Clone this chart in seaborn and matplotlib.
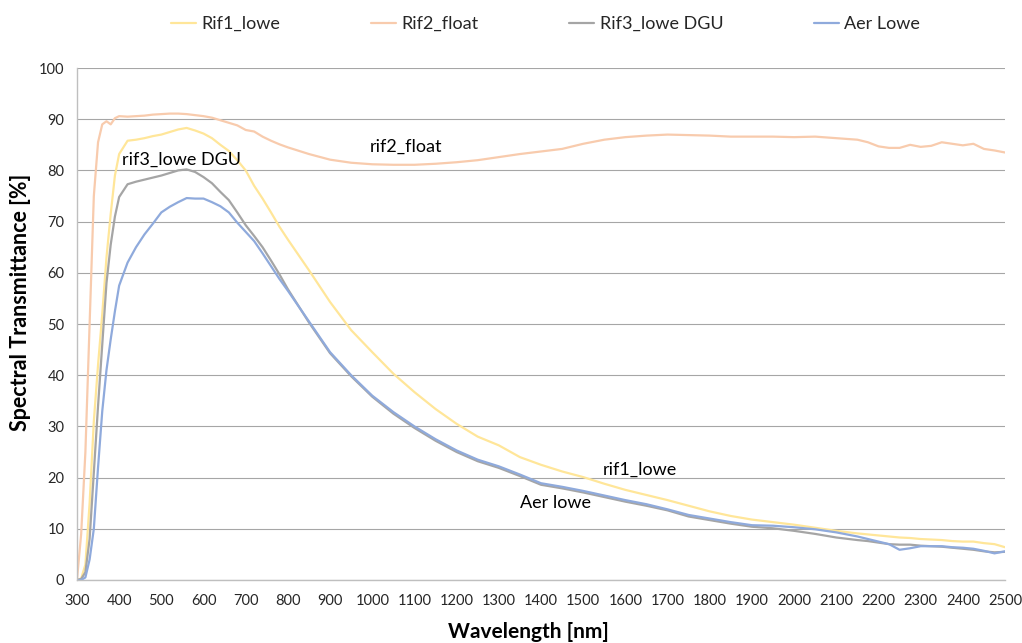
"""
Spectral transmittance of four glazing samples
"""
import matplotlib
matplotlib.use("Agg")
import matplotlib.pyplot as plt
import numpy as np
import pandas as pd
import seaborn as sns

# wavelength grid [nm]
wavelength = [
    300, 310, 320, 330, 340, 350, 360, 370, 380, 390,
    400, 420, 440, 460, 480, 500, 520, 540, 560, 580,
    600, 620, 640, 660, 680, 700, 720, 740, 760, 780,
    800, 850, 900, 950, 1000, 1050, 1100, 1150, 1200, 1250,
    1300, 1350, 1400, 1450, 1500, 1550, 1600, 1650, 1700, 1750,
    1800, 1850, 1900, 1950, 2000, 2050, 2100, 2150, 2175, 2200,
    2225, 2250, 2275, 2300, 2325, 2350, 2375, 2400, 2425, 2450,
    2475, 2500,
]

rif1_lowe = [
    0.0, 0.3, 3.0, 15.0, 31.0, 42.0, 52.0, 63.0, 71.5, 79.0,
    83.2, 85.8, 86.0, 86.3, 86.7, 87.0, 87.5, 88.0, 88.3, 87.8,
    87.2, 86.3, 85.0, 83.8, 82.0, 80.0, 77.0, 74.5, 71.8, 69.0,
    66.5, 60.5, 54.3, 48.8, 44.5, 40.3, 36.7, 33.4, 30.5, 28.0,
    26.3, 24.0, 22.5, 21.2, 20.1, 18.8, 17.6, 16.6, 15.6, 14.5,
    13.4, 12.5, 11.8, 11.3, 10.8, 10.2, 9.6, 9.1, 8.9, 8.7,
    8.5, 8.3, 8.2, 8.0, 7.9, 7.8, 7.6, 7.5, 7.5, 7.2,
    7.0, 6.4,
]

rif2_float = [
    0.0, 9.0, 25.0, 50.0, 75.0, 85.5, 89.0, 89.6, 89.0, 90.2,
    90.6, 90.5, 90.6, 90.7, 90.9, 91.0, 91.1, 91.1, 91.0, 90.8,
    90.6, 90.3, 89.8, 89.3, 88.8, 87.9, 87.6, 86.6, 85.8, 85.1,
    84.5, 83.2, 82.1, 81.5, 81.2, 81.1, 81.1, 81.3, 81.6, 82.0,
    82.6, 83.2, 83.7, 84.2, 85.2, 86.0, 86.5, 86.8, 87.0, 86.9,
    86.8, 86.6, 86.6, 86.6, 86.5, 86.6, 86.3, 86.0, 85.5, 84.7,
    84.4, 84.4, 85.0, 84.6, 84.8, 85.5, 85.2, 84.9, 85.2, 84.2,
    83.9, 83.5,
]

rif3_lowe_dgu = [
    0.0, 0.2, 1.5, 8.0, 21.0, 34.0, 46.0, 58.0, 65.5, 71.0,
    74.8, 77.3, 77.8, 78.2, 78.6, 79.0, 79.5, 80.0, 80.2, 79.7,
    78.7, 77.5, 75.8, 74.2, 71.8, 69.3, 67.2, 65.0, 62.4, 59.7,
    56.8, 50.3, 44.3, 39.8, 35.8, 32.5, 29.7, 27.2, 25.0, 23.2,
    21.9, 20.3, 18.6, 17.9, 17.1, 16.2, 15.3, 14.5, 13.6, 12.4,
    11.7, 11.0, 10.4, 10.1, 9.6, 9.0, 8.3, 7.8, 7.6, 7.3,
    7.0, 6.9, 6.9, 6.7, 6.6, 6.5, 6.3, 6.1, 5.9, 5.6,
    5.4, 5.5,
]

aer_lowe = [
    0.0, 0.0, 0.5, 4.0, 10.0, 22.0, 33.0, 41.0, 47.0, 52.5,
    57.5, 62.0, 65.0, 67.5, 69.6, 71.8, 72.9, 73.8, 74.6, 74.5,
    74.5, 73.8, 73.0, 71.8, 69.8, 68.0, 66.2, 63.8, 61.3, 58.8,
    56.5, 50.5, 44.5, 40.0, 36.0, 32.8, 30.0, 27.5, 25.3, 23.5,
    22.2, 20.6, 18.9, 18.2, 17.4, 16.5, 15.6, 14.8, 13.8, 12.7,
    12.0, 11.3, 10.7, 10.6, 10.3, 9.9, 9.3, 8.5, 8.0, 7.5,
    7.0, 5.9, 6.2, 6.6, 6.6, 6.6, 6.4, 6.3, 6.1, 5.7,
    5.2, 5.6,
]

series_names = ["Rif1_lowe", "Rif2_float", "Rif3_lowe DGU", "Aer Lowe"]
series_values = [rif1_lowe, rif2_float, rif3_lowe_dgu, aer_lowe]
colors = ["#FFE699", "#F8CBAD", "#A5A5A5", "#8FAADC"]

# curve labels written inside the plot (text, x, y)
curve_labels = [
    ("rif3_lowe DGU", 407, 82.0),
    ("rif2_float", 995, 84.6),
    ("rif1_lowe", 1547, 21.5),
    ("Aer lowe", 1350, 15.0),
]

frames = []
for name, vals in zip(series_names, series_values):
    frames.append(pd.DataFrame({"wl": wavelength, "T": vals, "series": name}))
df = pd.concat(frames, ignore_index=True)

sns.set_theme(style="white")
plt.rcParams["font.family"] = ["Lato", "DejaVu Sans"]

fig = plt.figure(figsize=(10.22, 6.43), dpi=100)
ax = fig.add_axes([0.0753, 0.098, 0.9081, 0.7962])

sns.lineplot(
    data=df, x="wl", y="T", hue="series", hue_order=series_names,
    palette=dict(zip(series_names, colors)), linewidth=1.6, ax=ax,
    sort=False,
)

ax.set_xlim(300, 2500)
ax.set_ylim(0, 100)
ax.set_xticks(np.arange(300, 2501, 100))
ax.set_yticks(np.arange(0, 101, 10))
ax.tick_params(axis="both", labelsize=10.5, labelcolor="#262626",
               color="#a6a6a6", length=4, width=0.8, direction="out")
ax.tick_params(axis="x", pad=6)
ax.tick_params(axis="y", pad=5)
ax.yaxis.grid(True, color="#a6a6a6", linewidth=0.8)
ax.set_axisbelow(True)
for side in ["top", "right"]:
    ax.spines[side].set_visible(False)
for side in ["left", "bottom"]:
    ax.spines[side].set_color("#bfbfbf")
    ax.spines[side].set_linewidth(1.0)

ax.set_xlabel("Wavelength [nm]", fontsize=15, fontweight="bold",
              color="#000000", labelpad=9)
ax.xaxis.set_label_coords(0.487, -0.082)
ax.set_ylabel("Spectral Transmittance [%]", fontsize=15.5, fontweight="bold",
              color="#000000", labelpad=5)
ax.yaxis.set_label_coords(-0.050, 0.543)

for txt, x, y in curve_labels:
    ax.text(x, y, txt, fontsize=13, color="#000000", va="center", ha="left")

sns.move_legend(
    ax, "center", bbox_to_anchor=(0.505, 1.086), ncol=4,
    frameon=False, title=None, fontsize=13, handlelength=1.4,
    handletextpad=0.3, columnspacing=5.0,
)

fig.savefig("out.png", dpi=100)
